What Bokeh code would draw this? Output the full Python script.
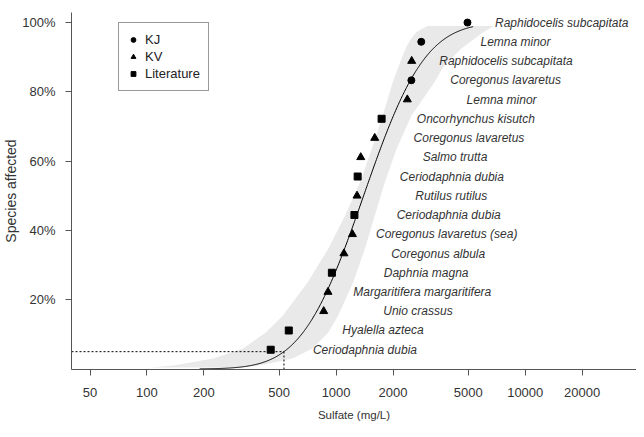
import math
import numpy as np
from bokeh.plotting import figure
from bokeh.models import FixedTicker, NumeralTickFormatter, Legend, LegendItem, ColumnDataSource
from bokeh.embed import file_html
from bokeh.resources import INLINE
from bokeh.core.properties import value

# ---- data ----
species = [
    "Ceriodaphnia dubia", "Hyalella azteca", "Unio crassus",
    "Margaritifera margaritifera", "Daphnia magna", "Coregonus albula",
    "Coregonus lavaretus (sea)", "Ceriodaphnia dubia", "Rutilus rutilus",
    "Ceriodaphnia dubia", "Salmo trutta", "Coregonus lavaretus",
    "Oncorhynchus kisutch", "Lemna minor", "Coregonus lavaretus",
    "Raphidocelis subcapitata", "Lemna minor", "Raphidocelis subcapitata",
]
group = [
    "Literature", "Literature", "KV", "KV", "Literature", "KV",
    "KV", "Literature", "KV", "Literature", "KV", "KV",
    "Literature", "KV", "KJ", "KV", "KJ", "KJ",
]
sulfate = [451, 562, 860, 906, 950, 1100, 1220, 1250, 1290,
           1300, 1350, 1600, 1740, 2380, 2500, 2510, 2820, 4950]

# confidence band, read at several levels of the affected fraction
band_frac = [0.004, 0.010, 0.030, 0.059, 0.105, 0.154, 0.249, 0.347, 0.443,
             0.538, 0.636, 0.732, 0.827, 0.876, 0.925, 0.950, 0.972, 0.990]
band_low = [105, 138, 224, 322, 425, 522, 705, 909, 1116,
            1337, 1545, 1765, 1991, 2150, 2330, 2470, 2650, 3038]
band_high = [314, 390, 589, 749, 909, 1025, 1229, 1420, 1602,
             1808, 2090, 2504, 3305, 3729, 4600, 5300, 6000, 6818]

x_ticks = [50, 100, 200, 500, 1000, 2000, 5000, 10000, 20000]
y_ticks = [0.2, 0.4, 0.6, 0.8, 1.0]

# ---- derived ----
n = len(sulfate)
frac = [(i + 1) / n for i in range(n)]
logs = np.log10(np.array(sulfate, dtype=float))
mu = logs.mean()
sigma = logs.std(ddof=1)

xc = np.logspace(math.log10(190), math.log10(5300), 400)
pc = np.array([0.5 * (1 + math.erf((math.log10(v) - mu) / (sigma * math.sqrt(2)))) for v in xc])
hc5 = 10 ** (mu - 1.6449 * sigma)
label_x = [v * 3.15 for v in sulfate]

FONT = "Liberation Sans"
TXT = "#333333"
AX = "#555555"

p = figure(width=636, height=433, x_axis_type="log",
           x_range=(39.9, 38750), y_range=(-0.0015, 1.029),
           output_backend="svg", toolbar_location=None,
           min_border_left=66, min_border_right=0, min_border_top=12, min_border_bottom=64)
p.outline_line_color = None
p.xgrid.visible = False
p.ygrid.visible = False
p.background_fill_color = "white"

p.harea(y=band_frac, x1=band_low, x2=band_high, fill_color="#e9e9e9")
p.line(xc, pc, line_color="black", line_width=1)

x0 = p.x_range.start
y0 = p.y_range.start
p.line([x0, hc5], [0.05, 0.05], line_color="black", line_width=1, line_dash="2 2")
p.line([hc5, hc5], [y0, 0.05], line_color="black", line_width=1, line_dash="2 2")

src = {}
for g in ["KJ", "KV", "Literature"]:
    idx = [i for i in range(n) if group[i] == g]
    src[g] = ColumnDataSource(dict(x=[sulfate[i] for i in idx], y=[frac[i] for i in idx]))

r_kj = p.scatter("x", "y", source=src["KJ"], marker="circle", size=7, color="black")
r_kv = p.scatter("x", "y", source=src["KV"], marker="triangle", size=8, color="black")
r_lit = p.scatter("x", "y", source=src["Literature"], marker="square", size=7, color="black")

p.text(x=label_x, y=frac, text=species, text_align="center", text_baseline="middle",
       text_font=value(FONT), text_font_style="italic", text_font_size="12px", text_color=TXT)

legend = Legend(items=[LegendItem(label="KJ", renderers=[r_kj]),
                       LegendItem(label="KV", renderers=[r_kv]),
                       LegendItem(label="Literature", renderers=[r_lit])],
                location=(47, 278))
legend.border_line_color = "#333333"
legend.border_line_width = 1
legend.padding = 8
legend.spacing = 0
legend.margin = 0
legend.glyph_width = 12
legend.glyph_height = 17
legend.label_height = 17
legend.label_standoff = 6
legend.label_text_font = FONT
legend.label_text_font_size = "13px"
legend.label_text_color = "#222222"
p.add_layout(legend, "center")

# axes
p.xaxis.ticker = FixedTicker(ticks=x_ticks)
p.xaxis.formatter = NumeralTickFormatter(format="0")
p.yaxis.ticker = FixedTicker(ticks=y_ticks)
p.yaxis.formatter = NumeralTickFormatter(format="0%")
for ax in (p.xaxis[0], p.yaxis[0]):
    ax.axis_line_color = AX
    ax.major_tick_line_color = AX
    ax.minor_tick_line_color = None
    ax.major_tick_in = 0
    ax.major_tick_out = 6
    ax.major_label_text_font = FONT
    ax.major_label_text_font_size = "13px"
    ax.major_label_text_color = TXT
    ax.axis_label_text_font = FONT
    ax.axis_label_text_font_style = "normal"
    ax.axis_label_text_color = TXT
p.xaxis.axis_label = "Sulfate (mg/L)"
p.yaxis.axis_label = "Species affected"
p.xaxis.axis_label_text_font_size = "11.5px"
p.yaxis.axis_label_text_font_size = "14px"
p.xaxis.major_label_standoff = 12
p.yaxis.major_label_standoff = 10
p.xaxis.axis_label_standoff = 9
p.yaxis.axis_label_standoff = 0

open("out.html", "w").write(file_html(p, INLINE))
